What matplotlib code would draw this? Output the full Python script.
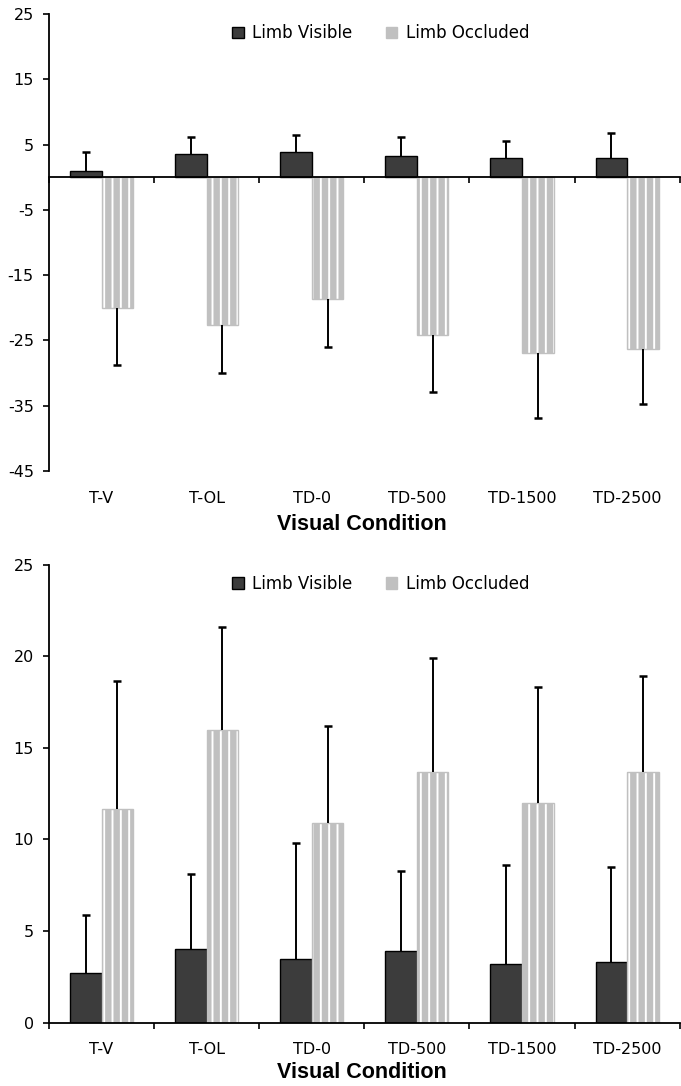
import numpy as np
import matplotlib
matplotlib.use("Agg")
from matplotlib import pyplot as plt
from matplotlib.patches import Patch
from matplotlib.transforms import blended_transform_factory

# datos
condiciones = ['T-V', 'T-OL', 'TD-0', 'TD-500', 'TD-1500', 'TD-2500']

arriba_visible = [1.0, 3.6, 3.9, 3.3, 3.0, 3.0]
arriba_visible_err = [2.9, 2.55, 2.6, 2.9, 2.6, 3.7]
arriba_ocluido = [-20.0, -22.6, -18.6, -24.1, -26.9, -26.3]
arriba_ocluido_err = [8.8, 7.4, 7.4, 8.8, 10.0, 8.5]

abajo_visible = [2.7, 4.0, 3.5, 3.9, 3.2, 3.3]
abajo_visible_err = [3.2, 4.1, 6.3, 4.4, 5.4, 5.2]
abajo_ocluido = [11.65, 16.0, 10.9, 13.7, 12.0, 13.7]
abajo_ocluido_err = [7.0, 5.6, 5.3, 6.2, 6.35, 5.25]

OSCURO = '#3c3c3c'
GRIS = '#c0c0c0'

plt.rcParams['font.family'] = ['DejaVu Sans']
plt.rcParams['axes.unicode_minus'] = False
plt.rcParams['hatch.linewidth'] = 1.4


def dibujar(ax, visible, visible_err, ocluido, ocluido_err, yticks, ylim):
    x = np.arange(len(condiciones))
    ancho = 0.3

    ax.bar(x - ancho / 2, visible, ancho, color=OSCURO, edgecolor='black', linewidth=1.0, zorder=2)
    ax.bar(x + ancho / 2, ocluido, ancho, color=GRIS, edgecolor='white', linewidth=0, hatch='||', zorder=2)
    ax.bar(x + ancho / 2, ocluido, ancho, fill=False, edgecolor=GRIS, linewidth=1.0, zorder=2)

    # barras de error solo hacia afuera del cero, con tapa solo en el extremo
    for pos, vals, err in [(x - ancho / 2, visible, visible_err), (x + ancho / 2, ocluido, ocluido_err)]:
        vals = np.array(vals)
        err = np.array(err)
        fin = vals + np.sign(vals) * err
        ax.vlines(pos, vals, fin, colors='black', linewidth=1.4, zorder=3)
        ax.plot(pos, fin, ls='none', marker='_', ms=6, mew=1.8, color='black', zorder=3)

    ax.set_xlim(-0.5, len(condiciones) - 0.5)
    ax.set_ylim(*ylim)
    ax.set_yticks(yticks)
    ax.tick_params(axis='y', length=4, width=1.2, pad=7, labelsize=11.5, direction='out')
    ax.set_xticks(np.arange(len(condiciones) + 1) - 0.5)
    ax.set_xticklabels([])
    ax.tick_params(axis='x', length=4, width=1.2, direction='out')

    ax.spines['top'].set_visible(False)
    ax.spines['right'].set_visible(False)
    ax.spines['left'].set_linewidth(1.3)
    ax.spines['bottom'].set_linewidth(1.3)
    ax.spines['bottom'].set_position(('data', 0))

    trans = blended_transform_factory(ax.transData, ax.transAxes)
    for i, c in enumerate(condiciones):
        ax.annotate(c, xy=(i, 0), xycoords=trans, xytext=(0, -19.5), textcoords='offset points',
                    ha='center', va='center', fontsize=11.5)

    manijas = [Patch(facecolor=OSCURO, edgecolor='black', linewidth=1.0),
               Patch(facecolor=GRIS, edgecolor=GRIS)]
    ax.legend(manijas, ['Limb Visible', 'Limb Occluded'], ncol=2, frameon=False,
              loc='center', bbox_to_anchor=(0.526, 0.958), fontsize=12,
              handlelength=0.7, handleheight=0.7, handletextpad=0.5, columnspacing=2.0)


fig = plt.figure(figsize=(6.81, 10.86), dpi=100)
ax1 = fig.add_axes([0.072, 0.5663, 0.926, 0.4208])
ax2 = fig.add_axes([0.072, 0.0583, 0.926, 0.4217])

dibujar(ax1, arriba_visible, arriba_visible_err, arriba_ocluido, arriba_ocluido_err,
        [25, 15, 5, -5, -15, -25, -35, -45], (-45, 25))
dibujar(ax2, abajo_visible, abajo_visible_err, abajo_ocluido, abajo_ocluido_err,
        [0, 5, 10, 15, 20, 25], (0, 25))

fig.text(362 / 681, 1 - 525 / 1086, 'Visual Condition', ha='center', va='center',
         fontsize=15.5, fontweight='bold', family='Liberation Sans')
fig.text(362 / 681, 1 - 1073 / 1086, 'Visual Condition', ha='center', va='center',
         fontsize=15.5, fontweight='bold', family='Liberation Sans')

fig.savefig('out.png', dpi=100)
